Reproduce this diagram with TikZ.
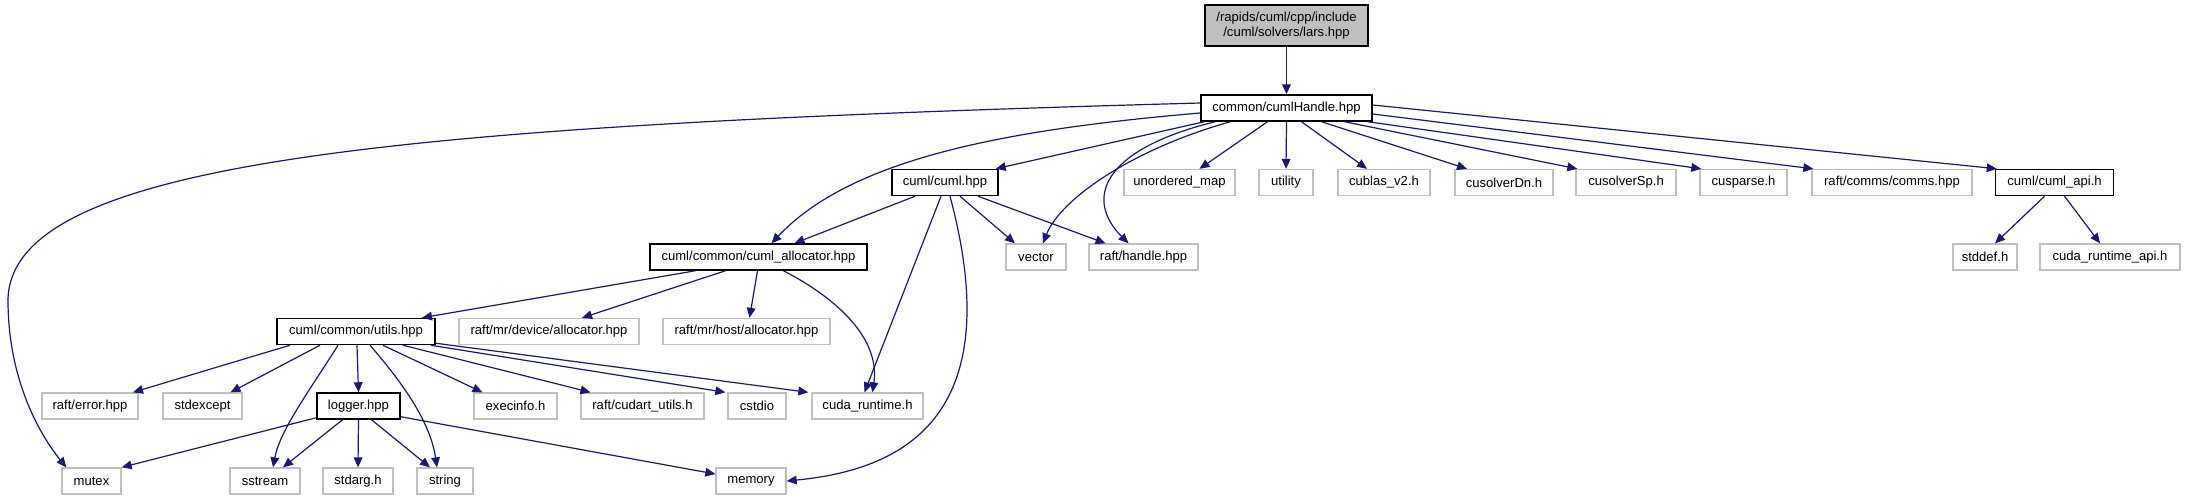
\documentclass[tikz,border=0pt]{standalone}
\usepackage{fontspec}
\setmainfont{Liberation Sans}
\usetikzlibrary{arrows.meta,calc}
\definecolor{edgeblue}{HTML}{191970}
\definecolor{grey75}{HTML}{BFBFBF}
\begin{document}
\begin{tikzpicture}[x=0.75pt,y=-0.75pt,
  every node/.style={font=\fontsize{9.8}{11.5}\selectfont, inner sep=0pt, minimum height=19.5pt, anchor=center},
  ext/.style={draw=grey75, line width=1pt, fill=white, minimum width=#1*0.75pt},
  doc/.style={draw=black, line width=1.1pt, fill=white, minimum width=#1*0.75pt},
  edge/.style={draw=edgeblue, line width=0.9pt, -{Triangle[length=7.5pt,width=6.5pt]}}]
\useasboundingbox (0,0) rectangle (2190,500);
% nodes
\node[doc=163, fill=grey75, minimum height=30.75pt, align=center] (lars) at (1286.5,25.5) {/rapids/cuml/cpp/include\\/cuml/solvers/lars.hpp};
\node[doc=171] (handle) at (1286.5,108) {common/cumlHandle.hpp};
\node[doc=106] (cumlhpp) at (945,182.5) {cuml/cuml.hpp};
\node[ext=111] (umap) at (1179.5,182.5) {unordered\_map};
\node[ext=54] (utility) at (1286,182.5) {utility};
\node[ext=92] (cublas) at (1384,182.5) {cublas\_v2.h};
\node[ext=98] (cusolverDn) at (1504,182.5) {cusolverDn.h};
\node[ext=100] (cusolverSp) at (1626,182.5) {cusolverSp.h};
\node[ext=87] (cusparse) at (1743.5,182.5) {cusparse.h};
\node[ext=160] (comms) at (1892,182.5) {raft/comms/comms.hpp};
\node[doc=118] (cumlapi) at (2054.5,182.5) {cuml/cuml\_api.h};
\node[doc=217] (alloc) at (758.5,257) {cuml/common/cuml\_allocator.hpp};
\node[ext=60] (vector) at (1036,257) {vector};
\node[ext=109] (rafthandle) at (1143.5,257) {raft/handle.hpp};
\node[ext=64] (stddef) at (1985,257) {stddef.h};
\node[ext=140] (cudaapi) at (2110,257) {cuda\_runtime\_api.h};
\node[doc=158] (utils) at (356,331.5) {cuml/common/utils.hpp};
\node[ext=180] (devalloc) at (549,331.5) {raft/mr/device/allocator.hpp};
\node[ext=167] (hostalloc) at (746.5,331.5) {raft/mr/host/allocator.hpp};
\node[ext=96] (rafterror) at (90,406) {raft/error.hpp};
\node[ext=79] (stdexcept) at (202.5,406) {stdexcept};
\node[doc=83] (logger) at (358.5,406) {logger.hpp};
\node[ext=83] (execinfo) at (515.5,406) {execinfo.h};
\node[ext=123] (cudart) at (642.5,406) {raft/cudart\_utils.h};
\node[ext=58] (cstdio) at (757,406) {cstdio};
\node[ext=111] (cudarth) at (867.5,406) {cuda\_runtime.h};
\node[ext=59] (mutex) at (91.5,481) {mutex};
\node[ext=70] (sstream) at (265,481) {sstream};
\node[ext=70] (stdarg) at (358,481) {stdarg.h};
\node[ext=56] (string) at (445,481) {string};
\node[ext=70] (memory) at (751,481) {memory};
% edges
\draw[edge] (lars) -- (handle);
\draw[edge] ($(handle.west)+(0,-5)$) .. controls (400,125) and (10,160) .. (8,300) .. controls (8,380) and (40,435) .. ($(mutex.north west)+(5,0)$);
\draw[edge] ($(handle.south west)+(4,0)$) -- ($(cumlhpp.north east)+(-3,0)$);
\draw[edge] ($(handle.west)+(0,5)$) .. controls (1000,130) and (850,160) .. ($(alloc.north)+(13,0)$);
\draw[edge] ($(handle.south west)+(30,0)$) .. controls (1130,150) and (1060,200) .. ($(vector.north)+(7,0)$);
\draw[edge] ($(handle.south west)+(15,0)$) .. controls (1100,150) and (1085,200) .. ($(rafthandle.north)+(-15,0)$);
\draw[edge] ($(handle.south)+(-19,0)$) -- ($(umap.north)+(20,0)$);
\draw[edge] (handle.south) -- (utility.north);
\draw[edge] ($(handle.south)+(15,0)$) -- ($(cublas.north)+(-17,0)$);
\draw[edge] ($(handle.south)+(35,0)$) -- ($(cusolverDn.north)+(-37,0)$);
\draw[edge] ($(handle.south)+(58,0)$) -- ($(cusolverSp.north west)+(2,0)$);
\draw[edge] ($(handle.south east)+(-5,0)$) -- ($(cusparse.north west)+(2,0)$);
\draw[edge] ($(handle.east)+(0,6)$) -- ($(comms.north west)+(2,0)$);
\draw[edge] ($(handle.east)+(0,-3)$) -- ($(cumlapi.north west)+(2,0)$);
\draw[edge] ($(cumlhpp.south)+(-30,0)$) -- ($(alloc.north)+(36,0)$);
\draw[edge] ($(cumlhpp.south)+(15,0)$) -- ($(vector.north)+(-21,0)$);
\draw[edge] ($(cumlhpp.south)+(33,0)$) -- ($(rafthandle.north)+(-38,0)$);
\draw[edge] ($(cumlhpp.south)+(-4,0)$) -- ($(cudarth.north)+(-3,0)$);
\draw[edge] ($(cumlhpp.south)+(5,0)$) .. controls (1010,420) and (900,470) .. (memory.east);
\draw[edge] ($(alloc.south)+(-63,0)$) -- ($(utils.north)+(66,0)$);
\draw[edge] ($(alloc.south)+(-33,0)$) -- ($(devalloc.north)+(33,0)$);
\draw[edge] ($(alloc.south)+(-1,0)$) -- ($(hostalloc.north)+(3,0)$);
\draw[edge] ($(alloc.south)+(25,0)$) .. controls (840,300) and (880,340) .. ($(cudarth.north)+(5,0)$);
\draw[edge] ($(utils.south)+(-66,0)$) -- ($(rafterror.north)+(43,0)$);
\draw[edge] ($(utils.south)+(-36,0)$) -- ($(stdexcept.north)+(28,0)$);
\draw[edge] ($(utils.south)+(-18,0)$) .. controls (310,390) and (280,430) .. ($(sstream.north)+(8,0)$);
\draw[edge] ($(utils.south)+(1,0)$) -- (logger.north);
\draw[edge] ($(utils.south)+(14,0)$) .. controls (400,380) and (430,420) .. ($(string.north)+(-8,0)$);
\draw[edge] ($(utils.south)+(27,0)$) -- ($(execinfo.north)+(-33,0)$);
\draw[edge] ($(utils.south)+(47,0)$) -- ($(cudart.north)+(-52,0)$);
\draw[edge] ($(utils.south east)+(-5,0)$) -- ($(cstdio.north west)+(-2,0)$);
\draw[edge] ($(utils.south east)+(0,-2)$) -- ($(cudarth.north west)+(-3,0)$);
\draw[edge] ($(logger.south west)+(0,-2)$) -- (mutex.north east);
\draw[edge] ($(logger.south)+(-16,0)$) -- ($(sstream.north)+(18,0)$);
\draw[edge] (logger.south) -- (stdarg.north);
\draw[edge] ($(logger.south)+(13,0)$) -- ($(string.north)+(-15,0)$);
\draw[edge] ($(logger.south east)+(0,-3)$) -- ($(memory.west)+(0,-7)$);
\draw[edge] ($(cumlapi.south)+(-10,0)$) -- ($(stddef.north)+(10,0)$);
\draw[edge] ($(cumlapi.south)+(10,0)$) -- ($(cudaapi.north)+(-10,0)$);
\end{tikzpicture}
\end{document}
